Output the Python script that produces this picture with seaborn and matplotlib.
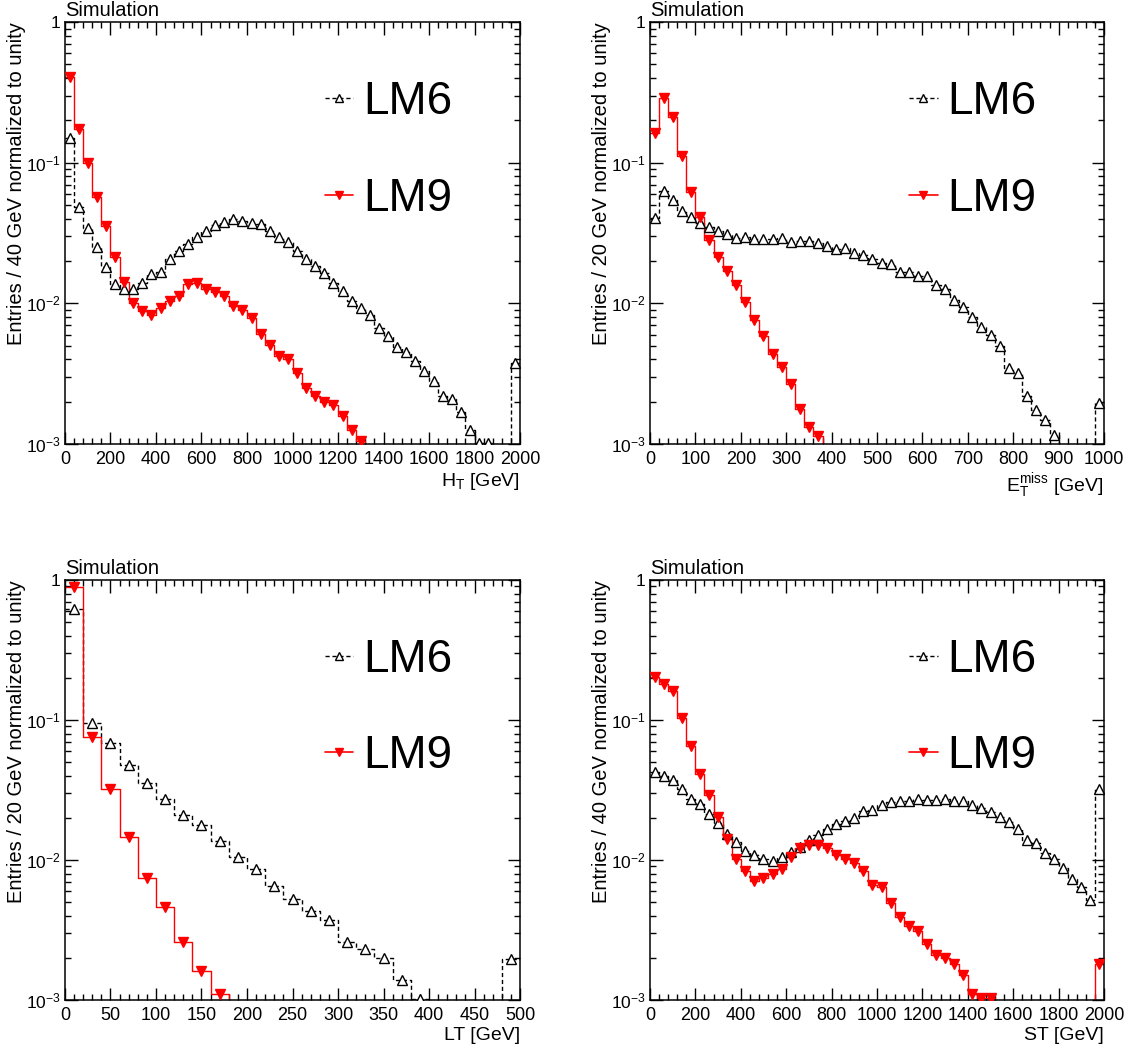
import numpy as np
import pandas as pd
import matplotlib

matplotlib.use("agg")
import matplotlib.pyplot as plt
import seaborn as sns
from matplotlib.lines import Line2D
from matplotlib.ticker import MultipleLocator, LogLocator, FuncFormatter, NullFormatter

# bin layouts
ht_edges = np.arange(0, 2001, 40)
met_edges = np.arange(0, 1001, 20)
lt_edges = np.arange(0, 501, 20)
st_edges = np.arange(0, 2001, 40)

# normalized bin contents (0 = below the axis range)
ht_lm6 = [0.151, 0.0487, 0.0341, 0.025, 0.018, 0.0137, 0.0127, 0.0127, 0.0139, 0.0162,
          0.0168, 0.0207, 0.0236, 0.0264, 0.0298, 0.0329, 0.0359, 0.0381, 0.0398, 0.0387,
          0.037, 0.0366, 0.0329, 0.0298, 0.0272, 0.0237, 0.0207, 0.0185, 0.0164, 0.014,
          0.0123, 0.0104, 0.0092, 0.0083, 0.0067, 0.0059, 0.0049, 0.0045, 0.0039, 0.0033,
          0.0028, 0.0022, 0.0021, 0.0017, 0.00125, 0.00102, 0.00101, 0, 0, 0.0038]
ht_lm9 = [0.41, 0.175, 0.1, 0.057, 0.0357, 0.0215, 0.0143, 0.0101, 0.0089, 0.0083,
          0.0092, 0.0104, 0.0113, 0.0137, 0.014, 0.0126, 0.0121, 0.0112, 0.0096, 0.009,
          0.0079, 0.0061, 0.0051, 0.0042, 0.004, 0.0032, 0.0025, 0.0022, 0.002, 0.0019,
          0.00157, 0.00125, 0.00105, 0, 0, 0, 0, 0, 0, 0,
          0, 0, 0, 0, 0, 0, 0, 0, 0, 0]

met_lm6 = [0.0402, 0.0632, 0.0543, 0.0456, 0.0409, 0.0371, 0.0347, 0.0327, 0.031, 0.029,
           0.0298, 0.0286, 0.0286, 0.0286, 0.029, 0.0275, 0.0277, 0.028, 0.0267, 0.0256,
           0.0245, 0.0246, 0.0227, 0.022, 0.0206, 0.0193, 0.0191, 0.0168, 0.0166, 0.0157,
           0.0157, 0.0135, 0.0126, 0.0106, 0.0095, 0.008, 0.0068, 0.006, 0.005, 0.00345,
           0.0032, 0.0022, 0.00175, 0.00148, 0.00116, 0, 0, 0, 0, 0.00197]
met_lm9 = [0.162, 0.287, 0.21, 0.111, 0.0622, 0.0409, 0.0282, 0.0215, 0.0171, 0.0135,
           0.0102, 0.0076, 0.0059, 0.0044, 0.00355, 0.00266, 0.00178, 0.00132, 0.00114, 0,
           0, 0, 0, 0, 0, 0, 0, 0, 0, 0,
           0, 0, 0, 0, 0, 0, 0, 0, 0, 0,
           0, 0, 0, 0, 0, 0, 0, 0, 0, 0]

lt_lm6 = [0.626, 0.0958, 0.0685, 0.0476, 0.0357, 0.0272, 0.0209, 0.0178, 0.0136, 0.0106,
          0.0087, 0.0065, 0.0053, 0.0043, 0.0037, 0.0026, 0.0023, 0.002, 0.0014, 0.00101,
          0, 0, 0, 0, 0.00196]
lt_lm9 = [0.887, 0.0751, 0.032, 0.0147, 0.0075, 0.0046, 0.0026, 0.0016, 0.0011, 0,
          0, 0, 0, 0, 0, 0, 0, 0, 0, 0,
          0, 0, 0, 0, 0]

st_lm6 = [0.0428, 0.0399, 0.0372, 0.0324, 0.0274, 0.025, 0.0214, 0.0185, 0.0154, 0.0135,
          0.0116, 0.0108, 0.0102, 0.0098, 0.0105, 0.0114, 0.0124, 0.0139, 0.0152, 0.0166,
          0.018, 0.019, 0.02, 0.0224, 0.0227, 0.0248, 0.0259, 0.0264, 0.0264, 0.0274,
          0.0267, 0.027, 0.0274, 0.0264, 0.0264, 0.0247, 0.0234, 0.0221, 0.0204, 0.0188,
          0.0166, 0.0138, 0.0133, 0.0113, 0.0101, 0.0088, 0.0073, 0.0064, 0.0052, 0.032]
st_lm9 = [0.202, 0.1815, 0.1625, 0.1035, 0.0648, 0.0415, 0.0292, 0.0204, 0.0142, 0.0101,
          0.0084, 0.0071, 0.0075, 0.008, 0.0086, 0.0105, 0.0121, 0.0128, 0.0128, 0.0122,
          0.0108, 0.0102, 0.0095, 0.0083, 0.0066, 0.0064, 0.0049, 0.0039, 0.0034, 0.0031,
          0.0025, 0.0021, 0.002, 0.0018, 0.0015, 0.0011, 0.00103, 0.00103, 0, 0,
          0, 0, 0, 0, 0, 0, 0, 0, 0, 0.0018]

sample_names = ["LM6", "LM9"]

# style
sns.set_theme(style="ticks")
plt.rcParams["font.family"] = ["Liberation Sans", "DejaVu Sans"]
plt.rcParams["mathtext.fontset"] = "custom"
plt.rcParams["mathtext.rm"] = "Liberation Sans"
plt.rcParams["mathtext.it"] = "Liberation Sans:italic"
plt.rcParams["mathtext.bf"] = "Liberation Sans:bold"
plt.rcParams["axes.linewidth"] = 1.1
for key in ["text.color", "axes.labelcolor", "axes.edgecolor", "xtick.color", "ytick.color"]:
    plt.rcParams[key] = "black"

DASH = (0, (3, 2))


def log_label(v, pos):
    if abs(v - 1) < 1e-9:
        return "1"
    return r"$10^{%d}$" % int(round(np.log10(v)))


def draw_panel(ax, edges, lm6, lm9, xlabel, ylabel, major, minor):
    edges = np.asarray(edges, dtype=float)
    width = edges[1] - edges[0]
    centers = 0.5 * (edges[:-1] + edges[1:])
    df = pd.DataFrame({"x": centers, "LM6": lm6, "LM9": lm9})

    # step outlines
    sns.histplot(data=df, x="x", weights="LM6", binwidth=width,
                 binrange=(edges[0], edges[-1]), element="step", fill=False,
                 color="black", linestyle=DASH, linewidth=1.0, ax=ax)
    sns.histplot(data=df, x="x", weights="LM9", binwidth=width,
                 binrange=(edges[0], edges[-1]), element="step", fill=False,
                 color="red", linewidth=1.0, ax=ax)

    # markers at bin centres
    m6 = df[df["LM6"] >= 1e-3]
    m9 = df[df["LM9"] >= 1e-3]
    ax.plot(m6["x"], m6["LM6"], ls="none", marker="^", ms=7, mfc="white",
            mec="black", mew=1.0, zorder=4)
    ax.plot(m9["x"], m9["LM9"], ls="none", marker="v", ms=7, mfc="red",
            mec="red", mew=1.0, zorder=5)

    ax.set_yscale("log")
    ax.set_ylim(1e-3, 1)
    ax.set_xlim(edges[0], edges[-1])

    ax.xaxis.set_major_locator(MultipleLocator(major))
    ax.xaxis.set_minor_locator(MultipleLocator(minor))
    ax.yaxis.set_major_locator(LogLocator(base=10))
    ax.yaxis.set_minor_locator(LogLocator(base=10, subs=np.arange(2, 10)))
    ax.yaxis.set_major_formatter(FuncFormatter(log_label))
    ax.yaxis.set_minor_formatter(NullFormatter())

    ax.tick_params(which="both", direction="in", top=True, right=True,
                   labelsize=13, width=1.0, color="black")
    ax.tick_params(which="major", length=9)
    ax.tick_params(which="minor", length=4.5)
    ax.tick_params(axis="x", which="major", pad=5)
    ax.tick_params(axis="y", which="major", pad=3, labelsize=12.5)

    ax.set_xlabel(xlabel, loc="right", fontsize=14, labelpad=2)
    ax.set_ylabel(ylabel, loc="top", fontsize=14.5, labelpad=0)
    ax.text(0.0, 1.004, "Simulation", transform=ax.transAxes, ha="left",
            va="bottom", fontsize=14.5)

    handles = [
        Line2D([], [], color="black", ls=DASH, lw=1.0, marker="^", ms=6,
               mfc="white", mec="black"),
        Line2D([], [], color="red", lw=1.2, marker="v", ms=6, mfc="red", mec="red"),
    ]
    ax.legend(handles, sample_names, loc="upper left", bbox_to_anchor=(0.571, 0.862),
              frameon=False, fontsize=33, borderpad=0, borderaxespad=0,
              handlelength=0.62, handletextpad=0.22, labelspacing=1.14)


fig = plt.figure(figsize=(11.3, 10.52), dpi=100)
ax1 = fig.add_axes([0.0575, 0.5779, 0.4027, 0.4011])
ax2 = fig.add_axes([0.5752, 0.5779, 0.4018, 0.4011])
ax3 = fig.add_axes([0.0575, 0.0494, 0.4027, 0.3992])
ax4 = fig.add_axes([0.5752, 0.0494, 0.4018, 0.3992])

draw_panel(ax1, ht_edges, ht_lm6, ht_lm9, r"H$_{\mathrm{T}}$ [GeV]",
           "Entries / 40 GeV normalized to unity", 200, 40)
draw_panel(ax2, met_edges, met_lm6, met_lm9, r"E$_{\mathrm{T}}^{\mathrm{miss}}$ [GeV]",
           "Entries / 20 GeV normalized to unity", 100, 20)
draw_panel(ax3, lt_edges, lt_lm6, lt_lm9, "LT [GeV]",
           "Entries / 20 GeV normalized to unity", 50, 10)
draw_panel(ax4, st_edges, st_lm6, st_lm9, "ST [GeV]",
           "Entries / 40 GeV normalized to unity", 200, 40)

fig.savefig("out.png", dpi=100)
